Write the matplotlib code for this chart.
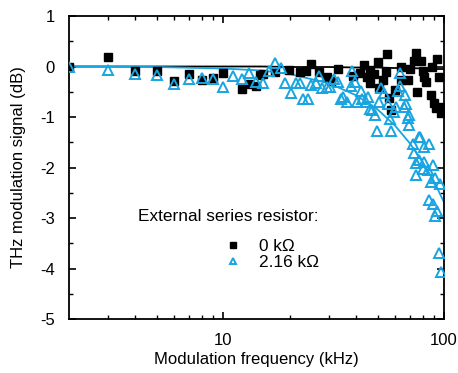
import matplotlib
matplotlib.use("Agg")
import matplotlib.pyplot as plt
from matplotlib.ticker import MultipleLocator, FixedLocator, NullFormatter

plt.rcParams['font.family'] = ['Liberation Sans', 'DejaVu Sans']
plt.rcParams['axes.unicode_minus'] = False

# 0 kOhm data (black squares)
f_0k = [2.0, 3.0, 4.0, 5.0, 6.0, 7.0, 8.0, 9.0, 10.0, 12.1, 13.1, 14.0, 14.7,
        15.2, 17.2, 19.8, 22.2, 23.6, 25.0, 27.1, 29.6, 30.9, 33.1, 38.5,
        43.4, 41.5, 45.0, 46.2, 46.1, 48.0, 50.4, 50.8, 53.0, 54.9, 54.5,
        56.5, 57.4, 60.0, 63.7, 64.0, 68.4, 70.2, 74.6, 73.2, 75.7, 78.6,
        80.0, 81.3, 83.0, 87.3, 88.6, 89.7, 91.8, 93.3, 95.2, 96.9, 98.0]
db_0k = [0.0, 0.18, -0.08, -0.09, -0.28, -0.14, -0.27, -0.23, -0.12, -0.44, -0.35, -0.39, -0.17,
         -0.15, -0.10, -0.06, -0.10, -0.08, 0.04, -0.10, -0.20, -0.28, -0.04, -0.19,
         0.03, -0.13, -0.20, -0.33, -0.07, -0.15, 0.08, -0.43, -0.26, 0.25, -0.10,
         -0.63, -0.86, -0.47, 0.00, -0.27, -0.27, -0.04, 0.26, 0.10, -0.50, 0.10,
         -0.08, -0.20, -0.30, -0.56, 0.00, -0.73, -0.83, 0.14, -0.20, -0.93, -0.80]

# 2.16 kOhm data (cyan triangles)
f_2k = [2.0, 3.0, 4.0, 5.0, 6.0, 7.0, 8.0, 9.0, 10.0, 11.1, 12.1, 13.1, 14.0,
        15.2, 16.1, 17.1, 18.2, 19.1, 20.2, 21.3, 22.2, 23.0, 24.2, 25.1, 26.2,
        27.1, 28.1, 29.4, 30.6, 31.7, 33.1, 34.0, 35.0, 36.5, 37.8, 38.2, 39.4,
        40.5, 42.0, 42.7, 44.2, 45.3, 46.2, 47.4, 48.6, 49.6, 50.8, 51.7, 53.5,
        55.5, 57.0, 57.4, 59.4, 60.5, 61.6, 63.3, 63.3, 65.6, 66.5, 67.2, 68.4,
        69.5, 69.5, 72.1, 72.8, 74.6, 74.6, 77.2, 77.2, 78.0, 80.0, 81.3, 81.3,
        84.3, 85.7, 87.3, 88.9, 91.0, 95.9, 85.7, 88.9, 92.9, 91.0, 95.2, 96.9]
db_2k = [0.0, -0.07, -0.15, -0.17, -0.35, -0.25, -0.22, -0.24, -0.41, -0.19, -0.25, -0.13, -0.30,
         -0.33, -0.09, 0.06, -0.02, -0.33, -0.52, -0.33, -0.33, -0.65, -0.65, -0.37, -0.32,
         -0.19, -0.43, -0.41, -0.41, -0.25, -0.30, -0.65, -0.60, -0.70, -0.39, -0.08, -0.30,
         -0.70, -0.48, -0.65, -0.70, -0.60, -0.85, -0.86, -0.96, -1.27, -0.70, -0.43, -0.53,
         -0.74, -1.03, -1.27, -0.91, -0.80, -0.48, -0.12, -0.39, -0.81, -0.56, -0.74, -1.01,
         -0.96, -1.16, -1.53, -1.72, -1.92, -2.15, -1.40, -1.85, -1.40, -2.02, -1.89, -1.59,
         -2.05, -1.53, -2.28, -1.95, -2.21, -2.33, -2.64, -2.72, -2.86, -2.96, -3.69, -4.06]

# fit curves
fit_f = [2, 5, 10, 15, 20, 30, 40, 50, 60, 70, 80, 90, 100]
fit_0k = [0.0, 0.0, 0.0, 0.0, -0.01, -0.01, -0.02, -0.02, -0.03, -0.03, -0.04, -0.05, -0.05]
fit_2k = [0.0, -0.01, -0.04, -0.08, -0.15, -0.33, -0.57, -0.85, -1.17, -1.52, -1.89, -2.27, -2.69]

cyan = '#18a4e0'
fs = 12

fig = plt.figure(figsize=(4.58, 3.73), dpi=100)
ax = fig.add_axes([69/458, 1-319/373, 375/458, 303/373])

ax.plot(fit_f, fit_0k, color='black', lw=1.3, zorder=2)
ax.plot(fit_f, fit_2k, color=cyan, lw=1.3, zorder=2)
ax.plot(f_0k, db_0k, 's', color='black', ms=5.5, zorder=3, label='0 k\u03a9')
ax.plot(f_2k, db_2k, '^', mfc='none', mec=cyan, mew=1.4, ms=6.5, zorder=4, label='2.16 k\u03a9')

ax.set_xscale('log')
ax.set_xlim(2, 100)
ax.set_ylim(-5, 1)
ax.set_xticks([10, 100])
ax.set_xticklabels(['10', '100'])
ax.xaxis.set_minor_locator(FixedLocator([3, 4, 5, 6, 7, 8, 9, 20, 30, 40, 50, 60, 70, 80, 90]))
ax.xaxis.set_minor_formatter(NullFormatter())
ax.yaxis.set_major_locator(MultipleLocator(1))
ax.yaxis.set_minor_locator(MultipleLocator(0.5))

ax.tick_params(which='both', direction='in', top=True, right=True, labelsize=fs)
ax.tick_params(which='major', length=5, width=1.2)
ax.tick_params(which='minor', length=3, width=1.0)
ax.tick_params(axis='x', pad=10)
ax.tick_params(axis='y', pad=10)
for s in ax.spines.values():
    s.set_linewidth(1.3)

ax.set_xlabel('Modulation frequency (kHz)', fontsize=fs, labelpad=3)
ax.set_ylabel('THz modulation signal (dB)', fontsize=fs, labelpad=10)

fig.text(228/458, 1-216/373, 'External series resistor:', fontsize=12.4, ha='center', va='center')
ax.legend(loc='upper left', bbox_to_anchor=(216/458, 1-230/373), bbox_transform=fig.transFigure,
          frameon=False, fontsize=12.4, handlelength=1.0, handletextpad=1.0, labelspacing=0.05,
          borderpad=0, markerscale=0.75)

fig.savefig('out.png', dpi=100)
